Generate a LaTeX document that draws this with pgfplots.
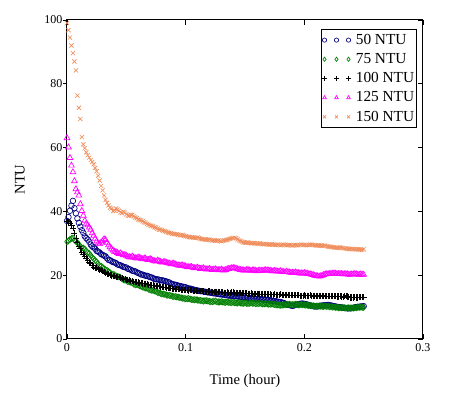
\documentclass[border=0pt]{standalone}
\usepackage{fontspec}
\setmainfont{Liberation Serif}
\usepackage{pgfplots}
\pgfplotsset{compat=1.18}
\usepackage{pgfplotstable}
\definecolor{cA}{HTML}{000080}
\definecolor{cB}{HTML}{008000}
\definecolor{cC}{HTML}{000000}
\definecolor{cD}{HTML}{FF00FF}
\definecolor{cE}{HTML}{F08C5A}
\pgfplotstableread{
t a b c d e
0 37.0 30.5 37.0 63.0 99.0
0.0025 40.2 31.2 36.3 56.8 94.5
0.005 43.3 31.6 34.8 52.3 89.6
0.0075 39.4 30.6 31.5 47.0 84.2
0.01 36.4 29.7 29.2 45.0 72.5
0.0125 34.1 28.6 27.3 40.2 63.3
0.015 32.2 28.2 25.9 37.1 59.8
0.0175 31.2 27.1 24.6 35.7 57.6
0.02 29.6 26.2 23.7 34.3 56.1
0.0225 28.7 25.1 22.6 32.4 54.8
0.025 27.6 24.2 22.4 30.6 52.6
0.0275 27.1 23.0 21.7 29.8 49.7
0.03 26.4 22.5 21.3 30.7 46.6
0.0325 25.9 21.7 20.6 31.1 43.6
0.035 24.8 21.2 20.4 29.4 41.9
0.0375 24.4 20.4 19.9 28.3 40.9
0.04 24.0 20.1 19.7 27.4 40.3
0.0425 23.4 19.6 19.3 27.0 40.6
0.045 23.1 19.3 19.2 26.9 39.7
0.0475 22.6 18.6 18.8 26.3 39.9
0.05 22.4 18.3 18.6 26.1 39.1
0.0525 21.9 17.9 18.4 25.7 38.6
0.055 21.4 17.6 18.1 25.9 38.9
0.0575 21.2 17.0 17.9 25.4 38.1
0.06 20.7 16.9 17.7 25.6 37.5
0.0625 20.2 16.5 17.6 25.2 37.2
0.065 20.0 16.1 17.3 25.3 36.6
0.0675 19.8 15.9 17.2 24.9 36.1
0.07 19.4 15.4 16.9 25.1 35.6
0.0725 19.1 15.2 16.8 24.6 35.3
0.075 18.7 14.9 16.7 24.3 34.9
0.0775 18.6 14.5 16.5 24.5 34.3
0.08 18.4 14.1 16.3 24.0 34.1
0.0825 18.2 14.0 16.2 24.2 33.8
0.085 17.9 13.7 16.0 23.8 33.4
0.0875 17.4 13.6 15.9 23.5 33.2
0.09 17.1 13.3 15.8 23.7 32.9
0.0925 16.9 13.2 15.6 23.2 32.8
0.095 16.6 13.0 15.6 23.0 32.5
0.0975 16.4 12.8 15.4 23.1 32.6
0.1 16.2 12.6 15.4 22.8 32.2
0.1025 15.8 12.7 15.2 22.5 32.0
0.105 15.7 12.4 15.3 22.6 31.9
0.1075 15.4 12.3 15.1 22.2 31.7
0.11 15.2 12.2 15.0 22.4 31.8
0.1125 15.0 12.1 15.1 22.0 31.4
0.115 14.9 11.9 14.9 22.2 31.3
0.1175 14.7 12.0 14.8 21.8 31.1
0.12 14.6 11.8 14.9 22.0 31.2
0.1225 14.4 11.7 14.7 21.7 30.9
0.125 14.3 11.9 14.8 21.9 30.8
0.1275 14.1 11.6 14.6 21.6 30.9
0.13 14.0 11.7 14.7 21.8 30.6
0.1325 13.9 11.5 14.5 21.5 30.9
0.135 13.7 11.6 14.6 21.9 31.1
0.1375 13.6 11.4 14.5 22.1 31.4
0.14 13.5 11.5 14.6 22.3 31.7
0.1425 13.4 11.3 14.4 22.1 31.6
0.145 13.3 11.4 14.5 21.8 30.9
0.1475 13.1 11.2 14.3 21.6 30.5
0.15 13.0 11.3 14.4 21.5 30.2
0.1525 12.9 11.1 14.2 21.7 30.3
0.155 12.8 11.3 14.3 21.4 30.0
0.1575 12.7 11.2 14.1 21.6 30.1
0.16 12.5 11.1 14.2 21.3 29.9
0.1625 12.5 11.2 14.0 21.5 30.0
0.165 12.4 11.0 14.1 21.4 29.7
0.1675 12.3 11.1 14.0 21.6 29.8
0.17 12.2 10.9 14.1 21.5 29.6
0.1725 12.0 11.0 13.9 21.3 29.7
0.175 11.9 10.8 14.0 21.4 29.5
0.1775 11.7 10.7 13.9 21.2 29.6
0.18 11.6 10.6 14.0 21.3 29.4
0.1825 11.3 10.7 13.8 21.0 29.6
0.185 10.9 10.8 13.9 21.1 29.4
0.1875 10.6 10.9 13.8 20.9 29.5
0.19 10.4 10.8 13.7 20.8 29.3
0.1925 10.7 10.9 13.8 20.9 29.5
0.195 10.9 10.7 13.7 20.7 29.4
0.1975 11.1 10.8 13.6 20.6 29.6
0.2 11.0 10.7 13.7 20.7 29.5
0.2025 10.8 10.6 13.6 20.5 29.4
0.205 10.5 10.5 13.7 20.3 29.6
0.2075 10.3 10.4 13.5 20.1 29.5
0.21 10.2 10.3 13.6 19.8 29.3
0.2125 10.3 10.4 13.5 19.6 29.4
0.215 10.5 10.2 13.6 19.9 29.2
0.2175 10.6 10.3 13.4 20.3 29.3
0.22 10.7 10.2 13.5 20.4 29.0
0.2225 10.5 10.1 13.4 20.5 28.9
0.225 10.3 10.0 13.5 20.6 28.7
0.2275 10.1 9.9 13.3 20.4 28.6
0.23 10.0 9.8 13.4 20.5 28.7
0.2325 9.8 9.9 13.2 20.3 28.5
0.235 9.7 9.7 13.6 20.4 28.4
0.2375 9.6 9.8 13.1 20.2 28.2
0.24 9.7 9.7 13.0 20.3 28.3
0.2425 9.9 9.8 13.1 20.4 28.1
0.245 10.1 9.9 13.0 20.2 28.2
0.2475 10.2 10.0 13.2 20.3 28.0
0.25 10.3 9.9 13.1 20.2 28.1
0.00125 38.2 30.8 36.8 60.1 96.8
0.00375 41.8 31.5 35.6 54.4 92.0
0.00625 41.0 31.0 33.1 49.5 87.0
0.00875 37.8 30.2 30.2 46.0 76.3
0.01125 35.2 29.0 28.3 42.3 69.0
0.01375 33.3 28.5 26.6 38.7 61.0
0.01625 31.6 27.6 25.3 36.2 58.5
0.01875 30.5 26.8 24.0 35.0 56.9
0.02125 29.0 25.6 23.1 33.2 55.5
0.02375 28.3 24.6 22.3 31.5 53.6
0.02625 27.4 23.6 22.0 30.0 51.2
0.02875 26.6 22.8 21.5 30.3 48.0
0.03125 26.1 22.0 20.9 31.3 45.0
0.03375 25.3 21.5 20.5 30.2 42.7
0.03625 24.7 20.8 20.1 28.8 41.2
0.03875 24.1 20.3 19.8 27.8 40.1
0.04125 23.8 19.8 19.5 27.3 40.9
0.04375 23.2 19.5 19.3 26.7 40.2
0.04625 22.9 18.9 19.0 26.6 39.5
0.04875 22.5 18.5 18.7 26.4 39.6
0.05125 22.0 18.0 18.5 25.8 38.7
0.05375 21.7 17.8 18.2 25.6 38.9
0.05625 21.3 17.2 18.0 25.6 38.4
0.05875 20.9 17.1 17.8 25.3 37.9
0.06125 20.5 16.7 17.6 25.5 37.3
0.06375 20.2 16.3 17.4 25.0 36.9
0.06625 19.8 16.0 17.3 25.2 36.4
0.06875 19.6 15.6 17.0 24.8 35.8
0.07125 19.3 15.3 16.9 24.9 35.5
0.07375 18.8 15.1 16.7 24.4 35.0
0.07625 18.7 14.6 16.6 24.6 34.6
0.07875 18.4 14.3 16.4 24.2 34.3
0.08125 18.3 14.1 16.2 24.1 33.9
0.08375 18.0 13.8 16.1 23.9 33.6
0.08625 17.7 13.7 15.9 23.7 33.3
0.08875 17.2 13.4 15.8 23.6 33.0
0.09125 17.0 13.3 15.7 23.4 32.9
0.09375 16.7 13.1 15.6 23.1 32.7
0.09625 16.5 12.9 15.5 23.1 32.5
0.09875 16.3 12.7 15.4 22.9 32.4
0.10125 16.0 12.6 15.3 22.6 32.1
0.10375 15.8 12.5 15.3 22.6 31.9
0.10625 15.5 12.3 15.2 22.4 31.8
0.10875 15.3 12.3 15.0 22.3 31.7
0.11125 15.1 12.1 15.1 22.2 31.6
0.11375 15.0 12.0 15.0 22.1 31.3
0.11625 14.8 12.0 14.8 22.0 31.2
0.11875 14.6 11.9 14.9 21.9 31.1
0.12125 14.5 11.7 14.8 21.8 31.0
0.12375 14.3 11.8 14.7 21.8 30.9
0.12625 14.2 11.7 14.7 21.7 30.8
0.12875 14.0 11.6 14.6 21.7 30.7
0.13125 13.9 11.6 14.6 21.6 30.8
0.13375 13.8 11.5 14.5 21.7 31.0
0.13625 13.6 11.5 14.5 22.0 31.3
0.13875 13.5 11.4 14.6 22.2 31.6
0.14125 13.4 11.4 14.5 22.2 31.7
0.14375 13.3 11.3 14.4 21.9 31.2
0.14625 13.2 11.3 14.4 21.7 30.7
0.14875 13.0 11.2 14.3 21.5 30.3
0.15125 12.9 11.2 14.3 21.6 30.2
0.15375 12.8 11.2 14.2 21.5 30.1
0.15625 12.7 11.2 14.2 21.5 30.0
0.15875 12.6 11.1 14.1 21.4 30.0
0.16125 12.5 11.1 14.1 21.4 29.9
0.16375 12.4 11.1 14.0 21.4 29.8
0.16625 12.3 11.0 14.0 21.5 29.7
0.16875 12.2 11.0 14.0 21.5 29.7
0.17125 12.1 10.9 14.0 21.4 29.6
0.17375 11.9 10.9 13.9 21.3 29.6
0.17625 11.8 10.7 13.9 21.3 29.5
0.17875 11.6 10.6 13.9 21.2 29.5
0.18125 11.4 10.6 13.9 21.1 29.5
0.18375 11.1 10.7 13.8 21.0 29.5
0.18625 10.7 10.8 13.8 21.0 29.4
0.18875 10.5 10.8 13.7 20.8 29.4
0.19125 10.5 10.8 13.7 20.8 29.4
0.19375 10.8 10.8 13.7 20.8 29.4
0.19625 11.0 10.7 13.6 20.6 29.5
0.19875 11.1 10.7 13.6 20.6 29.5
0.20125 10.9 10.6 13.6 20.6 29.4
0.20375 10.6 10.5 13.6 20.4 29.5
0.20625 10.4 10.4 13.6 20.2 29.5
0.20875 10.2 10.3 13.5 19.9 29.4
0.21125 10.2 10.3 13.5 19.7 29.3
0.21375 10.4 10.3 13.5 19.7 29.3
0.21625 10.5 10.2 13.5 20.1 29.2
0.21875 10.6 10.2 13.4 20.3 29.1
0.22125 10.6 10.1 13.4 20.4 28.9
0.22375 10.4 10.0 13.4 20.5 28.8
0.22625 10.2 9.9 13.4 20.5 28.6
0.22875 10.0 9.8 13.3 20.4 28.6
0.23125 9.9 9.8 13.3 20.4 28.6
0.23375 9.7 9.8 13.4 20.3 28.4
0.23625 9.6 9.7 13.3 20.3 28.3
0.23875 9.6 9.7 13.0 20.2 28.2
0.24125 9.8 9.7 13.0 20.3 28.2
0.24375 10.0 9.8 13.0 20.3 28.1
0.24625 10.1 9.9 13.1 20.2 28.1
0.24875 10.2 9.9 13.1 20.2 28.0
}\data
\begin{document}
\begin{tikzpicture}
\begin{axis}[
  scale only axis, width=267pt, height=239.25pt,
  xmin=0, xmax=0.3, ymin=0, ymax=100,
  xtick={0,0.1,0.2,0.3}, ytick={0,20,40,60,80,100},
  tick align=inside, xtick pos=both, ytick pos=right, yticklabel pos=left,
  major tick length=4pt,
  tick style={black, line width=0.6pt},
  axis line style={line width=0.75pt},
  ticklabel style={font=\fontsize{9}{10}\selectfont},
  /pgf/number format/assume math mode=true,
  xlabel={Time (hour)}, ylabel={NTU},
  label style={font=\fontsize{11}{12}\selectfont},
  xlabel style={at={(axis description cs:0.5,-0.132)}, anchor=center},
  ylabel style={at={(axis description cs:-0.132,0.5)}, anchor=center},
  clip=false,
  legend cell align=left,
  legend image code/.code={\path[draw=none,fill=none] (-1.8pt,0pt) -- (22.5pt,0pt);\draw[mark repeat=1,#1,only marks,mark size=1.6pt] plot coordinates {(0pt,0pt) (9pt,0pt) (18pt,0pt)};},
  legend style={at={(rel axis cs:0.982,0.972)}, anchor=north east, draw=black, line width=0.6pt,
    font=\fontsize{11.5}{13}\selectfont, row sep=1.3pt, inner xsep=0.5pt, inner ysep=1.5pt,
    nodes={inner xsep=1pt}},
]
\addplot[only marks, mark=o, color=cA, mark size=2.1pt, mark options={line width=0.5pt}] table[x=t,y=a] {\data};
\addlegendentry{50 NTU}
\addplot[only marks, mark=diamond, color=cB, mark size=2.3pt, mark options={line width=0.5pt}] table[x=t,y=b] {\data};
\addlegendentry{75 NTU}
\addplot[only marks, mark=+, color=cC, mark size=2.3pt, mark options={line width=0.5pt}] table[x=t,y=c] {\data};
\addlegendentry{100 NTU}
\addplot[only marks, mark=triangle, color=cD, mark size=2.5pt, mark options={line width=0.5pt}] table[x=t,y=d] {\data};
\addlegendentry{125 NTU}
\addplot[only marks, mark=x, color=cE, mark size=2.2pt, mark options={line width=0.5pt}] table[x=t,y=e] {\data};
\addlegendentry{150 NTU}
\pgfplotsinvokeforeach{0,20,40,60,80,100}{\draw[line width=0.6pt] (axis cs:0,#1) -- ++(-3pt,0pt);}
\end{axis}
\path ([shift={(-50.25pt,-60pt)}]current axis.south west) rectangle ([shift={(39.75pt,15pt)}]current axis.north east);
\end{tikzpicture}
\end{document}
